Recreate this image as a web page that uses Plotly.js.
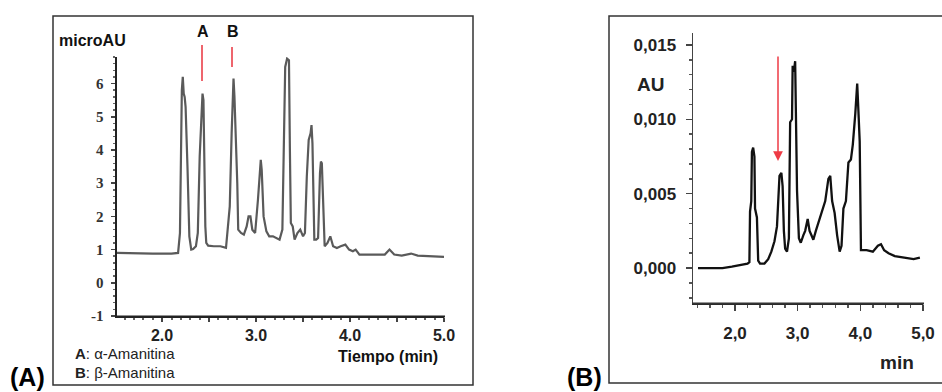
<!DOCTYPE html>
<html><head><meta charset="utf-8">
<script src="https://cdn.plot.ly/plotly-3.0.1.min.js"></script>
<style>body{margin:0;background:#fff}#c{width:942px;height:392px}</style>
</head><body><div id="c"></div>
<script>
// Panel A: time (min) and signal (microAU)
var tA = [1.52,1.7,1.9,2.1,2.17,2.19,2.20,2.21,2.22,2.23,2.24,2.25,2.27,2.29,2.31,2.33,2.36,2.38,2.40,2.42,2.43,2.44,2.45,2.46,2.47,2.49,2.55,2.62,2.68,2.70,2.72,2.74,2.75,2.76,2.77,2.79,2.80,2.81,2.84,2.87,2.90,2.92,2.94,2.96,2.99,3.02,3.04,3.05,3.06,3.08,3.11,3.14,3.18,3.21,3.25,3.28,3.30,3.31,3.33,3.35,3.36,3.37,3.39,3.41,3.44,3.47,3.50,3.52,3.54,3.56,3.58,3.59,3.60,3.61,3.62,3.64,3.66,3.68,3.69,3.70,3.71,3.73,3.76,3.79,3.82,3.86,3.90,3.95,3.99,4.03,4.06,4.10,4.20,4.30,4.37,4.42,4.47,4.55,4.65,4.72,4.85,5.0];
var vA = [0.9,0.88,0.88,0.88,0.9,1.5,4.5,5.8,6.2,5.7,5.6,5.3,3.5,1.4,1.0,1.02,1.1,1.5,3.8,5.5,5.7,5.5,3.0,1.7,1.2,1.12,1.1,1.1,1.05,1.6,2.3,4.5,5.8,6.15,5.6,4.0,3.0,1.6,1.5,1.45,1.7,2.0,2.0,1.6,1.5,2.5,3.4,3.7,3.4,2.0,1.55,1.4,1.4,1.35,1.3,1.6,4.5,6.5,6.75,6.7,4.0,1.8,1.7,1.3,1.5,1.6,1.4,1.5,3.2,4.3,4.5,4.75,4.2,2.0,1.3,1.3,1.35,3.3,3.65,3.6,2.5,1.1,1.2,1.4,1.1,1.05,1.1,1.15,1.0,0.95,1.0,0.85,0.85,0.85,0.85,1.0,0.85,0.82,0.88,0.82,0.8,0.78];
// Panel B: time (min) and absorbance (AU)
var tB = [1.41,1.6,1.8,1.95,2.05,2.2,2.23,2.24,2.26,2.27,2.29,2.31,2.32,2.35,2.37,2.40,2.47,2.53,2.58,2.63,2.67,2.69,2.71,2.74,2.76,2.78,2.80,2.83,2.86,2.88,2.91,2.92,2.94,2.96,2.97,2.99,3.02,3.05,3.09,3.12,3.16,3.19,3.22,3.25,3.29,3.33,3.38,3.44,3.49,3.52,3.55,3.59,3.63,3.67,3.70,3.73,3.77,3.81,3.85,3.88,3.92,3.95,3.97,3.99,4.01,4.10,4.20,4.28,4.33,4.38,4.45,4.55,4.70,4.85,4.95];
var vB = [0.0,0.0,0.0,0.0001,0.0002,0.0003,0.0004,0.0038,0.0045,0.0078,0.0081,0.0075,0.004,0.0034,0.0005,0.0003,0.0003,0.0006,0.0011,0.0018,0.0028,0.0045,0.0062,0.0064,0.0055,0.0025,0.0013,0.0011,0.002,0.0098,0.0100,0.0136,0.0132,0.0139,0.0100,0.0052,0.0020,0.0017,0.0022,0.0025,0.0033,0.0025,0.0022,0.0019,0.0025,0.0030,0.0037,0.0045,0.0060,0.0062,0.0045,0.0037,0.0022,0.0011,0.0015,0.0040,0.0045,0.0071,0.0073,0.0083,0.0104,0.0124,0.0105,0.0085,0.0012,0.0012,0.0011,0.0015,0.0016,0.0012,0.0010,0.0008,0.0007,0.0006,0.0007];
var xTickValsA = [2.0,2.5,3.0,3.5,4.0,4.5,5.0];
var xTickTextA = ['<b>2.0</b>','','<b>3.0</b>','','<b>4.0</b>','','<b>5.0</b>'];
var yTickValsA = [-1,0,1,2,3,4,5,6];
var yTickTextA = ['<b>-1</b>','<b>0</b>','<b>1</b>','<b>2</b>','<b>3</b>','<b>4</b>','<b>5</b>','<b>6</b>'];
var xTickValsB = [2,3,4,5];
var xTickTextB = ['<b>2,0</b>','<b>3,0</b>','<b>4,0</b>','<b>5,0</b>'];
var yTickValsB = [0,0.005,0.010,0.015];
var yTickTextB = ['<b>0,000</b>','<b>0,005</b>','<b>0,010</b>','<b>0,015</b>'];

var W=942,H=392;
function px(x){return x/W;} function py(y){return 1-y/H;}
var sans='Liberation Sans, Arial, sans-serif';

var data = [
 {x:tA,y:vA,type:'scatter',mode:'lines',line:{color:'#5a5a5a',width:2.2},xaxis:'x',yaxis:'y',hoverinfo:'skip'},
 {x:tB,y:vB,type:'scatter',mode:'lines',line:{color:'#111',width:2.3},xaxis:'x2',yaxis:'y2',hoverinfo:'skip'}
];
var layout = {
 width:W,height:H,margin:{l:0,r:0,t:0,b:0},paper_bgcolor:'#fff',plot_bgcolor:'rgba(0,0,0,0)',showlegend:false,
 xaxis:{domain:[px(117),px(444)],range:[1.52,5.0],showgrid:false,zeroline:false,showline:true,linecolor:'#222',linewidth:2,
   tickmode:'array',tickvals:xTickValsA,ticktext:xTickTextA,ticks:'outside',ticklen:4,tickwidth:2,tickcolor:'#444',
   tickfont:{family:sans,size:16,color:'#222'},ticklabelstandoff:0,
   minor:{tickmode:'linear',tick0:0,dtick:0.1,ticks:'outside',ticklen:2,tickcolor:'#666',showgrid:false},anchor:'y'},
 yaxis:{domain:[py(316),py(57)],range:[-1,6.8],showgrid:false,zeroline:false,showline:true,linecolor:'#222',linewidth:2.5,
   tickmode:'array',tickvals:yTickValsA,ticktext:yTickTextA,ticks:'outside',ticklen:4,tickwidth:1.5,tickcolor:'#444',
   tickfont:{family:'Liberation Serif, Times New Roman, serif',size:15,color:'#333'},ticklabelstandoff:4,
   minor:{tickmode:'linear',tick0:0,dtick:0.2,ticks:'outside',ticklen:2,tickcolor:'#666',showgrid:false},anchor:'x'},
 xaxis2:{domain:[px(693),px(923)],range:[1.33,5.0],showgrid:false,zeroline:false,showline:true,linecolor:'#222',linewidth:2,
   tickmode:'array',tickvals:xTickValsB,ticktext:xTickTextB,ticks:'outside',ticklen:6,tickwidth:1.5,tickcolor:'#444',
   tickfont:{family:sans,size:17,color:'#222'},ticklabelstandoff:8,
   minor:{tickmode:'linear',tick0:0,dtick:0.2,ticks:'outside',ticklen:3,tickcolor:'#555',showgrid:false},anchor:'y2'},
 yaxis2:{domain:[py(303),py(33)],range:[-0.00235,0.0158],showgrid:false,zeroline:false,showline:true,linecolor:'#444',linewidth:1.5,
   tickmode:'array',tickvals:yTickValsB,ticktext:yTickTextB,ticks:'outside',ticklen:6,tickwidth:1.5,tickcolor:'#444',
   tickfont:{family:sans,size:17,color:'#222'},ticklabelstandoff:6,
   minor:{tickmode:'linear',tick0:0,dtick:0.001,ticks:'outside',ticklen:3,tickcolor:'#555',showgrid:false},anchor:'x2'},
 shapes:[
  {type:'rect',xref:'paper',yref:'paper',x0:px(53),x1:px(473),y0:py(385),y1:py(16),line:{color:'#333',width:1.5}},
  {type:'rect',xref:'paper',yref:'paper',x0:px(609),x1:px(950),y0:py(383),y1:py(16),line:{color:'#333',width:1.5}},
  {type:'line',xref:'paper',yref:'paper',x0:px(116),x1:px(445),y0:py(316.5),y1:py(316.5),line:{color:'#222',width:2}},
  {type:'line',xref:'paper',yref:'paper',x0:px(692),x1:px(924),y0:py(303.5),y1:py(303.5),line:{color:'#333',width:2}},
  {type:'line',xref:'paper',yref:'paper',x0:px(202),x1:px(202),y0:py(45),y1:py(81),line:{color:'#e8323c',width:1.5}},
  {type:'line',xref:'paper',yref:'paper',x0:px(232),x1:px(232),y0:py(47),y1:py(67),line:{color:'#e8323c',width:1.5}}
 ],
 annotations:[
  {xref:'paper',yref:'paper',x:px(57),y:py(41),xanchor:'left',yanchor:'middle',text:'<b>microAU</b>',showarrow:false,font:{family:sans,size:16,color:'#111'}},
  {xref:'paper',yref:'paper',x:px(203),y:py(32),xanchor:'center',yanchor:'middle',text:'<b>A</b>',showarrow:false,font:{family:sans,size:16,color:'#111'}},
  {xref:'paper',yref:'paper',x:px(233),y:py(32),xanchor:'center',yanchor:'middle',text:'<b>B</b>',showarrow:false,font:{family:sans,size:16,color:'#111'}},
  {xref:'paper',yref:'paper',x:px(388),y:py(356),xanchor:'center',yanchor:'middle',text:'<b>Tiempo (min)</b>',showarrow:false,font:{family:sans,size:16,color:'#111'}},
  {xref:'paper',yref:'paper',x:px(73),y:py(353),xanchor:'left',yanchor:'middle',text:'<b>A</b>: α-Amanitina',showarrow:false,font:{family:sans,size:15,color:'#222'}},
  {xref:'paper',yref:'paper',x:px(73),y:py(372),xanchor:'left',yanchor:'middle',text:'<b>B</b>: β-Amanitina',showarrow:false,font:{family:sans,size:15,color:'#222'}},
  {xref:'paper',yref:'paper',x:px(8),y:py(377),xanchor:'left',yanchor:'middle',text:'<b>(A)</b>',showarrow:false,font:{family:sans,size:25,color:'#000'}},
  {xref:'paper',yref:'paper',x:px(650),y:py(84),xanchor:'center',yanchor:'middle',text:'<b>AU</b>',showarrow:false,font:{family:sans,size:19,color:'#222'}},
  {xref:'paper',yref:'paper',x:px(897),y:py(362),xanchor:'center',yanchor:'middle',text:'<b>min</b>',showarrow:false,font:{family:sans,size:19,color:'#222'}},
  {xref:'paper',yref:'paper',x:px(565),y:py(377),xanchor:'left',yanchor:'middle',text:'<b>(B)</b>',showarrow:false,font:{family:sans,size:25,color:'#000'}},
  {xref:'paper',yref:'paper',x:px(778),y:py(161),ax:0,ay:-106,text:'',showarrow:true,arrowhead:2,arrowsize:1.3,arrowwidth:1.5,arrowcolor:'#ee3b45'}
 ]
};
Plotly.newPlot('c',data,layout,{staticPlot:true});
</script></body></html>
